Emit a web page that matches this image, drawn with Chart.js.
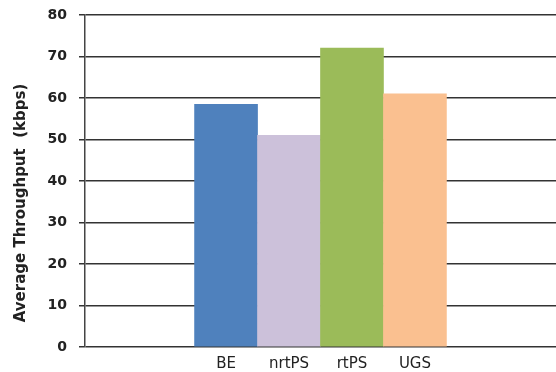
<!DOCTYPE html>
<html>
<head>
<meta charset="utf-8">
<script src="https://cdn.jsdelivr.net/npm/chart.js@4"></script>
<style>
  html, body { margin: 0; padding: 0; background: #fff; }
  #wrap { width: 556px; height: 372px; }
</style>
</head>
<body>
<div id="wrap"><canvas id="throughputChart"></canvas></div>
<script>
// 서비스 클래스별 평균 처리량
const classes = ['BE', 'nrtPS', 'rtPS', 'UGS'];
const throughput = [58.5, 51, 72, 61];
const barColors = ['#4f81bd', '#ccc1da', '#9bbb59', '#fac090'];
const yTicks = [0, 10, 20, 30, 40, 50, 60, 70, 80];

const points = classes.map(function(name, i) {
    return { x: i, y: throughput[i] };
});

// 축 제목을 아래쪽으로 조금 내려서 그림
const titleShift = {
    id: 'titleShift',
    afterLayout: function(chart) {
        const yScale = chart.scales.y;
        if (yScale._shifted) return;
        const drawTitle = yScale.drawTitle;
        yScale.drawTitle = function() {
            const ctx = this.ctx;
            ctx.save();
            ctx.translate(0, 22);
            drawTitle.apply(this, arguments);
            ctx.restore();
        };
        yScale._shifted = true;
    }
};

new Chart(document.getElementById('throughputChart').getContext('2d'), {
    type: 'bar',
    data: {
        datasets: [
            {
                data: points,
                backgroundColor: barColors,
                borderWidth: 0,
                barPercentage: 1,
                categoryPercentage: 1
            }
        ]
    },
    options: {
        responsive: true,
        maintainAspectRatio: false,
        animation: false,
        layout: {
            padding: { top: 15, right: 0, left: 0, bottom: 0 }
        },
        plugins: {
            legend: { display: false },
            tooltip: { enabled: false }
        },
        scales: {
            x: {
                type: 'linear',
                offset: false,
                min: -2.24,
                max: 5.24,
                afterBuildTicks: function(scale) {
                    scale.ticks = classes.map(function(name, i) { return { value: i }; });
                },
                ticks: {
                    autoSkip: false,
                    maxRotation: 0,
                    padding: 0,
                    color: '#222',
                    font: { family: 'DejaVu Sans', size: 15 },
                    callback: function(value) {
                        return classes[value] || '';
                    }
                },
                grid: { display: false },
                border: { display: false },
                afterFit: function(scale) { scale.height = 25; }
            },
            y: {
                min: 0,
                max: 80,
                afterBuildTicks: function(scale) {
                    scale.ticks = yTicks.map(function(v) { return { value: v }; });
                },
                ticks: {
                    padding: 12,
                    color: '#222',
                    font: { family: 'DejaVu Sans', size: 14, weight: 'bold', lineHeight: 1 }
                },
                grid: {
                    color: '#333',
                    lineWidth: 1.5,
                    tickLength: 6
                },
                border: { color: '#444', width: 1.5 },
                title: {
                    display: true,
                    text: 'Average Throughput  (kbps)',
                    color: '#222',
                    padding: { top: 12, bottom: 0 },
                    font: { family: 'DejaVu Sans', size: 15, weight: 'bold' }
                },
                afterFit: function(scale) {
                    scale.width = 85;
                    scale.paddingTop = 0;
                }
            }
        }
    },
    plugins: [titleShift]
});
</script>
</body>
</html>
